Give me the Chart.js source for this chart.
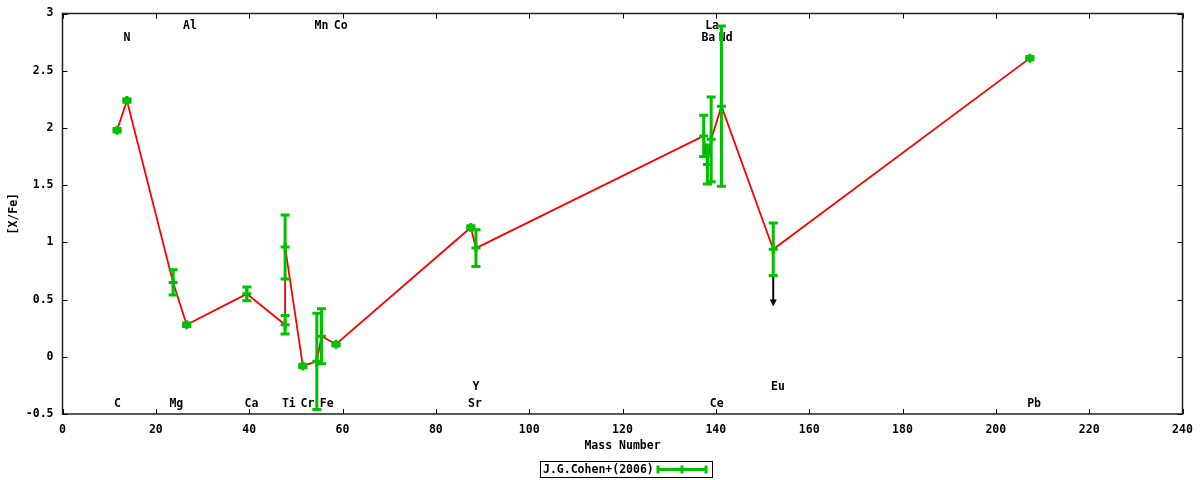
<!DOCTYPE html>
<html>
<head>
<meta charset="utf-8">
<script src="https://cdn.jsdelivr.net/npm/chart.js@4.4.0/dist/chart.umd.min.js"></script>
<style>
  html, body { margin: 0; padding: 0; background: #fff; }
</style>
</head>
<body>
<canvas id="abundChart" width="1200" height="480"></canvas>
<script>
// Abundance pattern, values
const massNumber = [11.7, 13.8, 23.7, 26.6, 39.5, 47.7, 47.7, 51.5, 54.5, 55.5, 58.6, 87.5, 88.6, 137.4, 138.2, 139.0, 141.2, 152.3, 207.3];
const xFe        = [1.98, 2.24, 0.65, 0.28, 0.55, 0.28, 0.96, -0.08, -0.04, 0.18, 0.11, 1.13, 0.95, 1.93, 1.68, 1.90, 2.19, 0.94, 2.61];
const xFeErr     = [0.015, 0.015, 0.11, 0.015, 0.06, 0.08, 0.28, 0.015, 0.42, 0.24, 0.015, 0.015, 0.16, 0.18, 0.17, 0.37, 0.70, 0.23, 0.015];

// Eu is an upper limit: arrow from bottom of its error bar down to this value
const limitIndex = 17;
const limitTo = 0.44;

// element names written inside the plot
const labelNames = ['C', 'Mg', 'Ca', 'Ti', 'Cr', 'Fe', 'Sr', 'Ce', 'Pb', 'Y', 'Eu', 'Al', 'Mn', 'Co', 'La', 'N', 'Ba', 'Nd'];
const labelX     = [11.8, 24.4, 40.5, 48.5, 52.5, 56.6, 88.4, 140.2, 208.2, 88.6, 153.3, 27.3, 55.5, 59.6, 139.2, 13.8, 138.4, 142.1];
const labelY     = [-0.41, -0.41, -0.41, -0.41, -0.41, -0.41, -0.41, -0.41, -0.41, -0.26, -0.26, 2.89, 2.89, 2.89, 2.89, 2.785, 2.785, 2.785];

const xTickStep = 20;
const yTickStep = 0.5;
const seriesName = 'J.G.Cohen+(2006)';

const GREEN = '#00c000';
const FONT = { family: "'DejaVu Sans Mono', monospace", size: 11.5, weight: 'bold' };
const FONT_CSS = "bold 11.5px 'DejaVu Sans Mono', monospace";

const points = massNumber.map((m, i) => ({ x: m, y: xFe[i] }));

// frame, inward ticks, labels, error bars and the boxed key
const gnuplotLook = {
  id: 'gnuplotLook',
  beforeDatasetsDraw(chart) {
    const { ctx, scales: { x, y } } = chart;
    ctx.save();
    ctx.font = FONT_CSS;
    ctx.fillStyle = '#000';
    ctx.textAlign = 'center';
    ctx.textBaseline = 'middle';
    labelNames.forEach((name, i) => {
      ctx.fillText(name, x.getPixelForValue(labelX[i]), y.getPixelForValue(labelY[i]));
    });
    ctx.restore();
  },
  afterDatasetsDraw(chart) {
    const { ctx, chartArea: a, scales: { x, y } } = chart;
    ctx.save();

    // error bars
    ctx.strokeStyle = GREEN;
    ctx.lineWidth = 3;
    ctx.lineCap = 'butt';
    const cap = 4.5;
    massNumber.forEach((m, i) => {
      const px = x.getPixelForValue(m);
      const top = y.getPixelForValue(xFe[i] + xFeErr[i]);
      const bot = y.getPixelForValue(xFe[i] - xFeErr[i]);
      ctx.beginPath();
      ctx.moveTo(px, top); ctx.lineTo(px, bot);
      ctx.moveTo(px - cap, top); ctx.lineTo(px + cap, top);
      ctx.moveTo(px - cap, bot); ctx.lineTo(px + cap, bot);
      ctx.stroke();
    });

    // upper limit arrow
    const ax = x.getPixelForValue(massNumber[limitIndex]);
    const ay0 = y.getPixelForValue(xFe[limitIndex] - xFeErr[limitIndex]) + 1.5;
    const ay1 = y.getPixelForValue(limitTo);
    ctx.strokeStyle = '#000';
    ctx.fillStyle = '#000';
    ctx.lineWidth = 2;
    ctx.beginPath();
    ctx.moveTo(ax, ay0); ctx.lineTo(ax, ay1 - 5);
    ctx.stroke();
    ctx.beginPath();
    ctx.moveTo(ax - 3.5, ay1 - 7);
    ctx.lineTo(ax + 3.5, ay1 - 7);
    ctx.lineTo(ax, ay1);
    ctx.closePath();
    ctx.fill();

    // frame
    ctx.strokeStyle = '#222';
    ctx.lineWidth = 1.5;
    ctx.strokeRect(a.left, a.top, a.right - a.left, a.bottom - a.top);

    // inward tick marks
    ctx.lineWidth = 1;
    ctx.strokeStyle = '#000';
    ctx.beginPath();
    x.ticks.forEach(t => {
      const px = Math.round(x.getPixelForValue(t.value)) + 0.5;
      ctx.moveTo(px, a.bottom); ctx.lineTo(px, a.bottom - 5);
      ctx.moveTo(px, a.top); ctx.lineTo(px, a.top + 5);
    });
    y.ticks.forEach(t => {
      const py = Math.round(y.getPixelForValue(t.value)) + 0.5;
      ctx.moveTo(a.left, py); ctx.lineTo(a.left + 5, py);
      ctx.moveTo(a.right, py); ctx.lineTo(a.right - 5, py);
    });
    ctx.stroke();
    ctx.restore();
  },
  afterDraw(chart) {
    const { ctx } = chart;
    ctx.save();
    // boxed key under the axis title
    const bx = 540, by = 461, bw = 172, bh = 16;
    ctx.strokeStyle = '#000';
    ctx.lineWidth = 1;
    ctx.strokeRect(bx + 0.5, by + 0.5, bw, bh);
    ctx.font = FONT_CSS;
    ctx.fillStyle = '#000';
    ctx.textAlign = 'left';
    ctx.textBaseline = 'middle';
    ctx.fillText(seriesName, bx + 3, by + bh / 2 + 1);
    const sx0 = bx + 118, sx1 = bx + 166, sy = by + bh / 2 + 0.5;
    ctx.strokeStyle = GREEN;
    ctx.lineWidth = 3;
    ctx.beginPath();
    ctx.moveTo(sx0, sy); ctx.lineTo(sx1, sy);
    ctx.moveTo(sx0, sy - 4); ctx.lineTo(sx0, sy + 4);
    ctx.moveTo(sx1, sy - 4); ctx.lineTo(sx1, sy + 4);
    ctx.moveTo((sx0 + sx1) / 2, sy - 4); ctx.lineTo((sx0 + sx1) / 2, sy + 4);
    ctx.stroke();
    ctx.restore();
  }
};

const ctx = document.getElementById('abundChart').getContext('2d');
const abundChart = new Chart(ctx, {
  type: 'scatter',
  data: {
    datasets: [
      {
        label: seriesName,
        data: points,
        showLine: false,
        pointStyle: 'cross',
        pointRadius: 4.5,
        pointBorderWidth: 3,
        borderColor: GREEN,
        backgroundColor: GREEN,
        order: 0,
      },
      {
        label: 'connecting line',
        data: points,
        showLine: true,
        borderColor: '#ff0000',
        borderWidth: 1.8,
        pointRadius: 0,
        tension: 0,
        order: 1,
      },
    ],
  },
  options: {
    responsive: false,
    animation: false,
    devicePixelRatio: 1,
    layout: { padding: { left: 0, right: 17.5, top: 13.5, bottom: 0 } },
    plugins: {
      legend: { display: false },
      tooltip: { enabled: false },
    },
    scales: {
      x: {
        type: 'linear',
        min: 0,
        max: 240,
        // fixed axis box so the plot frame lands where the original's does
        afterFit: (s) => { s.height = 66; s.paddingLeft = 0; s.paddingRight = 0; },
        grid: { display: false, drawTicks: false },
        border: { display: false },
        ticks: { stepSize: xTickStep, padding: 9, color: '#000', font: FONT, maxRotation: 0, autoSkip: false },
        title: { display: true, text: 'Mass Number', color: '#000', font: FONT, padding: { top: 0, bottom: 27 } },
      },
      y: {
        type: 'linear',
        min: -0.5,
        max: 3,
        afterFit: (s) => { s.width = 62.5; s.paddingTop = 0; s.paddingBottom = 0; },
        grid: { display: false, drawTicks: false },
        border: { display: false },
        ticks: { stepSize: yTickStep, padding: 9, color: '#000', font: FONT, callback: (v) => String(v) },
        title: { display: true, text: '[X/Fe]', color: '#000', font: FONT, padding: { top: 7, bottom: 0 } },
      },
    },
  },
  plugins: [gnuplotLook],
});
</script>
</body>
</html>
